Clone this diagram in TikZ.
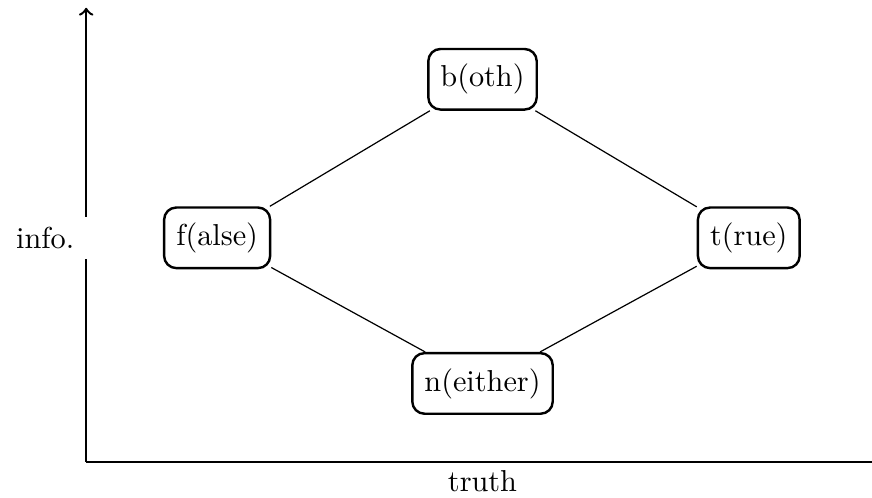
\documentclass[tikz,border=0pt]{standalone}
\begin{document}
\begin{tikzpicture}[state/.style={draw,thick,rounded corners,inner sep=4pt,minimum height=20pt}]
\useasboundingbox (-1.0,-0.41) rectangle (9.12,5.36);
\coordinate (o) at (0,0);
\coordinate (x) at (9.3,0);
\coordinate (y) at (0,5.27);
\draw [thick] (o) -- (x);
\draw [thick,->] (o) -- (y);
\node [below] (truth) at (4.6,0.02) {truth};
\node [left,fill=white,inner xsep=4.6pt] (info) at (0.03,2.6) {info.};
\node [state] (b) at (4.6,4.44) {b(oth)};
\node [state] (f) at (1.52,2.6) {f(alse)};
\node [state] (t) at (7.69,2.6) {t(rue)};
\node [state] (n) at (4.6,0.91) {n(either)};
\foreach \i/\j in {f/b,b/t,t/n,n/f}
  \draw (\i) -- (\j);
\end{tikzpicture}
\end{document}
